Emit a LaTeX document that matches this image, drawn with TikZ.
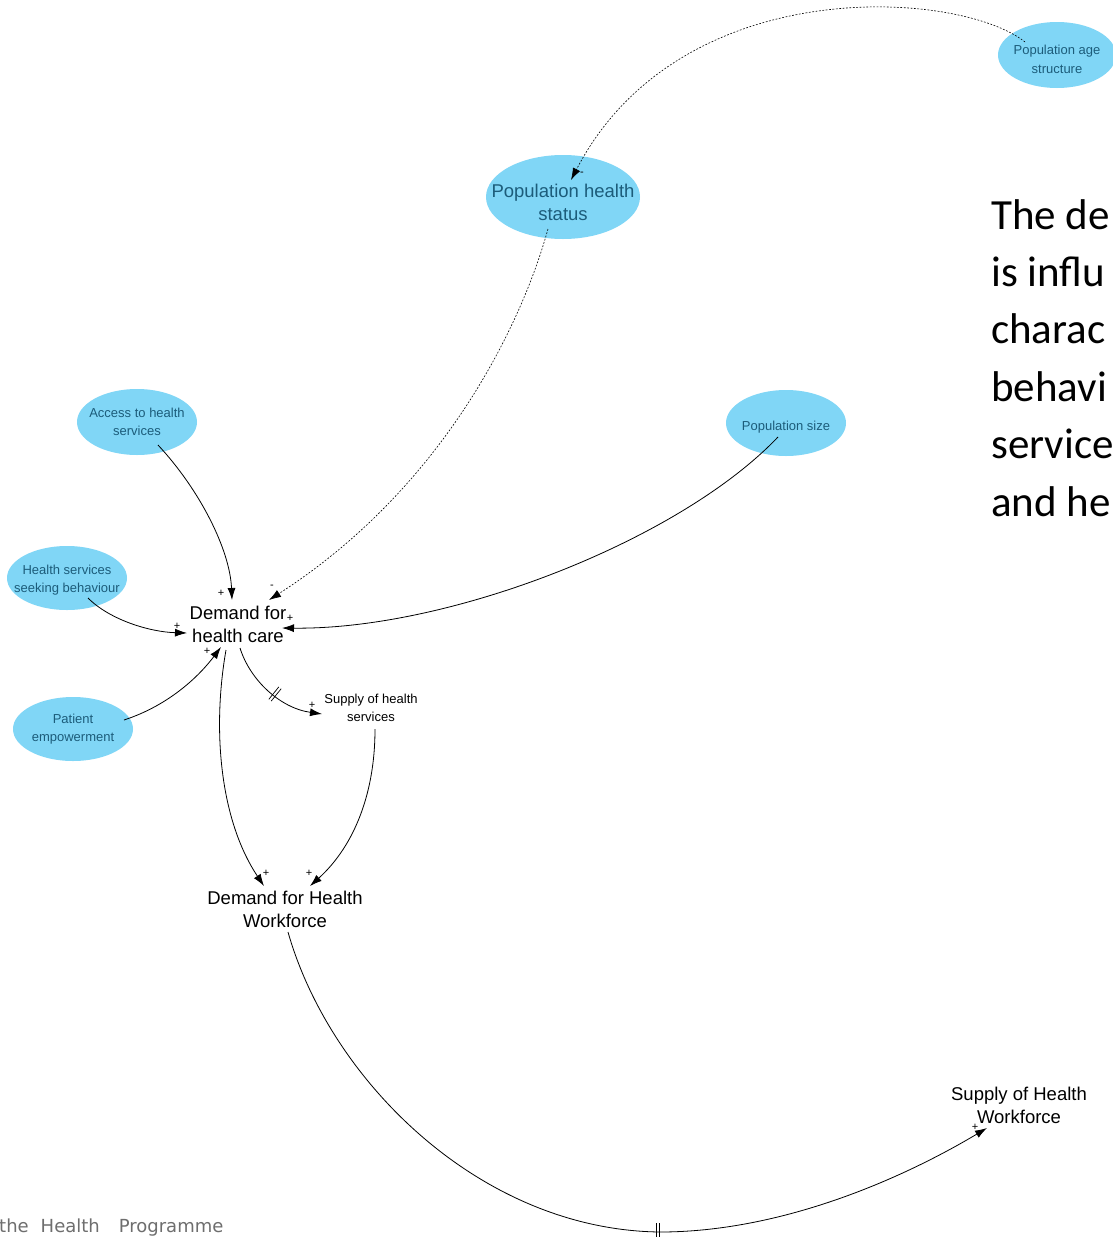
\documentclass[tikz,border=0pt]{standalone}
\usepackage{fontspec}
\setmainfont{Liberation Sans}
\newfontfamily\calibrifont{Carlito}
\newfontfamily\footerfont{DejaVu Sans}
\usetikzlibrary{arrows.meta,calc,shapes.geometric}
\definecolor{blobfill}{RGB}{128,214,246}
\definecolor{blobtext}{RGB}{28,92,122}
\definecolor{footgrey}{RGB}{110,110,110}
\tikzset{
  blob/.style={ellipse, fill=blobfill, inner xsep=-40pt, inner ysep=0pt, align=center, text=blobtext},
  smallfont/.style={font=\fontsize{13}{18.5}\selectfont},
  bigfont/.style={font=\fontsize{18.5}{23}\selectfont},
  var/.style={align=center, inner sep=0pt, text=black},
  link/.style={line width=0.8pt, -{Latex[length=12pt,width=8pt]}},
  dottedlink/.style={link, line width=0.6pt, dash pattern=on 1.8pt off 1.6pt},
  sign/.style={font=\fontsize{11}{11}\selectfont, inner sep=0pt},
  bar/.style={line width=0.7pt},
  slidetext/.style={font=\calibrifont\fontsize{43}{57}\selectfont, anchor=base west, inner sep=0pt},
}
% invisible strut that lowers a label inside its ellipse
\newcommand{\lowerby}[1]{\rule{0pt}{#1}}
\begin{document}
\begin{tikzpicture}[x=1pt, y=-1pt]
\useasboundingbox (0,0) rectangle (1113,1237);
\fill[white] (0,0) rectangle (1113,1237);
\clip (0,0) rectangle (1113,1237);

% causal factors
\node[blob, smallfont, minimum width=118pt, minimum height=66pt] (age) at (1057,55) {\lowerby{18pt}Population age\\structure};
\node[blob, bigfont, minimum width=154pt, minimum height=84pt] (phs) at (563,197) {\lowerby{24pt}Population health\\status};
\node[blob, smallfont, minimum width=120pt, minimum height=66pt] (acc) at (137,422) {Access to health\\services};
\node[blob, smallfont, minimum width=120pt, minimum height=66pt] (psz) at (786,423) {\lowerby{18pt}Population size};
\node[blob, smallfont, minimum width=120pt, minimum height=64pt] (hsb) at (67,578) {\lowerby{14pt}Health services\\seeking behaviour};
\node[blob, smallfont, minimum width=120pt, minimum height=64pt] (pem) at (73,729) {Patient\\empowerment};

% model variables
\node[var, bigfont] (dhc) at (238,624) {Demand for\\health care};
\node[var, smallfont] (shs) at (371,708) {Supply of health\\services};
\node[var, bigfont] (dhw) at (285,909) {Demand for Health\\Workforce};
\node[var, bigfont] (shw) at (1019,1105) {Supply of Health\\Workforce};

% causal links
\draw[dottedlink] ($(age)+(-32,-13)$) .. controls (960,-10) and (680,-30) .. ($(phs)+(8,-17)$);
\draw[dottedlink] ($(phs)+(-15,32)$) .. controls (520,330) and (440,490) .. ($(dhc)+(31,-24)$);
\draw[link] ($(acc)+(21,23)$) .. controls (200,490) and (230,550) .. ($(dhc)+(-6,-24)$);
\draw[link] ($(hsb)+(21,20)$) .. controls (110,620) and (150,632) .. ($(dhc)+(-51,9)$);
\draw[link] ($(pem)+(51,-9)$) .. controls (170,705) and (200,675) .. ($(dhc)+(-17,23)$);
\draw[link] ($(psz)+(-8,14)$) .. controls (680,540) and (450,630) .. ($(dhc)+(44,4)$);
\draw[link] ($(dhc)+(2,24)$) .. controls (250,680) and (280,708) .. ($(shs)+(-49,6)$);
\draw[link] ($(dhc)+(-12,26)$) .. controls (212,730) and (220,820) .. ($(dhw)+(-21,-23)$);
\draw[link] ($(shs)+(4,21)$) .. controls (375,800) and (350,850) .. ($(dhw)+(25,-23)$);
\coordinate (low) at (660,1232);
\draw[link] ($(dhw)+(3,23)$) .. controls (330,1080) and (480,1230) .. (low)
  .. controls (780,1232) and (900,1180) .. ($(shw)+(-32,23)$);

% delay marks
\draw[bar] (268.8,699.3) -- (278.8,686.9);
\draw[bar] (271.2,701.1) -- (281.2,688.7);
\draw[bar] (656.5,1223) -- (656.5,1239);
\draw[bar] (659.5,1223) -- (659.5,1239);

% link polarities
\node[sign] (s1) at (582,174) {-};
\node[sign] (s2) at (272,587) {-};
\node[sign] (s3) at (221,593) {+};
\node[sign] (s4) at (177,626) {+};
\node[sign] (s5) at (207,651) {+};
\node[sign] (s6) at (290,618) {+};
\node[sign] (s7) at (312,705) {+};
\node[sign] (s8) at (266,873) {+};
\node[sign] (s9) at (309,873) {+};
\node[sign] (s10) at (975,1127) {+};

% slide text
\node[slidetext] (l1) at (991,229) {The de};
\node[slidetext] (l2) at (991,286.4) {is influ};
\node[slidetext] (l3) at (991,343.8) {charac};
\node[slidetext] (l4) at (991,401.2) {behavi};
\node[slidetext] (l5) at (991,458.6) {service};
\node[slidetext] (l6) at (991,516) {and he};

\node[font=\footerfont\fontsize{18}{20}\selectfont, text=footgrey, anchor=base west, inner sep=0pt] (foot) at (-1,1232) {the\hspace{12pt}Health\hspace{19pt}Programme};
\end{tikzpicture}
\end{document}
